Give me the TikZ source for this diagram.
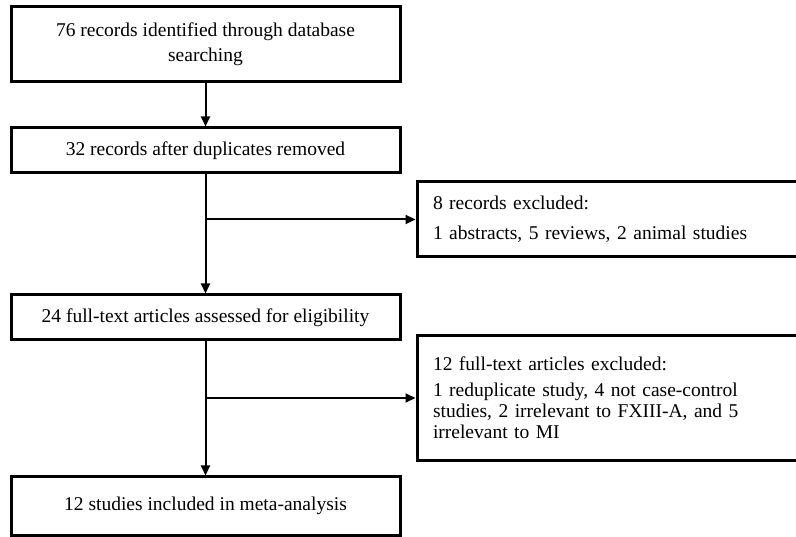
\documentclass[tikz,border=0pt]{standalone}
\usepackage{fontspec}
\setmainfont{Liberation Serif}
\usetikzlibrary{arrows.meta}
\begin{document}
\begin{tikzpicture}[x=1pt, y=-1pt, font=\fontsize{19.5}{21}\selectfont,
	box/.style={draw, line width=3pt, inner sep=0pt, minimum width=389pt, align=center},
	side/.style={draw, line width=3pt, inner xsep=16pt, inner ysep=0pt, minimum width=381pt, text width=349pt, align=left},
	flow/.style={line width=2pt, -{Triangle[length=10pt,width=9pt]}}]
	\useasboundingbox (0,0) rectangle (796,537);
	\node [box, minimum height=75pt, font=\fontsize{19.5}{25}\selectfont] (found) at (205.5,44.5) {76 records identified through database\\searching};
	\node [box, minimum height=45pt] (dedup) at (205.5,150.5) {32 records after duplicates removed};
	\node [side, minimum height=75pt] (excl1) at (607.5,219.5) {8 records excluded:\\[9pt]1 abstracts, 5 reviews, 2 animal studies};
	\node [box, minimum height=45pt] (assess) at (205.5,317.5) {24 full-text articles assessed for eligibility};
	\node [side, minimum height=125pt] (excl2) at (607.5,398) {12 full-text articles excluded:\\[5pt]1 reduplicate study, 4 not case-control\\studies, 2 irrelevant to FXIII-A, and 5\\irrelevant to MI};
	\node [box, minimum height=58pt] (incl) at (205.5,506) {12 studies included in meta-analysis};
	\coordinate (split1) at (dedup.south |- excl1.west);
	\coordinate (split2) at (assess.south |- excl2.west);
	\draw [flow] (found) -- (dedup);
	\draw [flow] (dedup) -- (assess);
	\draw [flow] (split1) -- (excl1);
	\draw [flow] (assess) -- (incl);
	\draw [flow] (split2) -- (excl2);
\end{tikzpicture}
\end{document}
